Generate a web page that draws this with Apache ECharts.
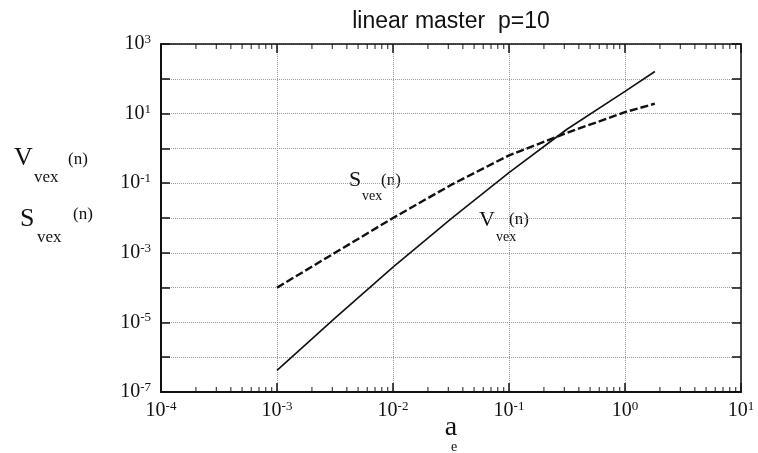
<!DOCTYPE html>
<html>
<head>
<meta charset="utf-8">
<script src="https://cdn.jsdelivr.net/npm/echarts@6/dist/echarts.min.js"></script>
<style>
  html, body { margin: 0; padding: 0; background: #fff; }
  #chart { width: 758px; height: 453px; }
</style>
</head>
<body>
<div id="chart"></div>
<script>
  // a_e values
  var ae = [0.001, 0.00316, 0.01, 0.0316, 0.1, 0.316, 1, 1.81]
  // V_vex(n), solid line
  var vexV = [4.2e-7, 1.32e-5, 3.9e-4, 9.5e-3, 0.2, 3.55, 43.7, 162]
  // S_vex(n), dashed line
  var vexS = [1e-4, 1e-3, 1e-2, 0.089, 0.63, 2.8, 11, 19.3]

  // log minor ticks of the a_e axis
  var decades = [1e-4, 1e-3, 1e-2, 1e-1, 1]
  var minorSteps = [2, 3, 4, 5, 6, 7, 8, 9]

  var xMin = 1e-4, xMax = 10
  var yMin = 1e-7, yMax = 1e3

  var serif = 'Liberation Serif'

  function pow10Label(v) {
    var e = Math.round(Math.log10(v))
    return '{b|10}{s|' + e + '}'
  }
  var labelRich = {
    b: { fontFamily: serif, fontSize: 20, color: '#111', lineHeight: 22 },
    s: { fontFamily: serif, fontSize: 13, color: '#111', padding: [0, 0, 9, 0] }
  }

  var minorBottom = [], minorTop = []
  decades.forEach(function (d) {
    minorSteps.forEach(function (k) {
      minorBottom.push([d * k, yMin])
      minorTop.push([d * k, yMax])
    })
  })

  var dom = echarts.init(document.getElementById('chart'))
  var option = {
    animation: false,
    grid: { left: 161, right: 17, top: 44, bottom: 61 },
    xAxis: [{
      type: 'log', logBase: 10, min: xMin, max: xMax, interval: 1, position: 'bottom',
      axisLine: { lineStyle: { color: '#111', width: 2 } },
      axisTick: { inside: true, length: 9, lineStyle: { color: '#111', width: 1.5 } },
      axisLabel: { margin: 8, formatter: pow10Label, rich: labelRich },
      splitLine: { show: true, lineStyle: { color: '#9a9a9a', type: 'dotted', width: 1 } }
    }, {
      type: 'log', logBase: 10, min: xMin, max: xMax, interval: 1, position: 'top',
      axisLine: { lineStyle: { color: '#111', width: 1.5 } },
      axisTick: { inside: true, length: 9, lineStyle: { color: '#111', width: 1.5 } },
      axisLabel: { show: false },
      splitLine: { show: false }
    }],
    yAxis: [{
      type: 'log', logBase: 10, min: yMin, max: yMax, interval: 1, position: 'left',
      axisLine: { lineStyle: { color: '#111', width: 2 } },
      axisTick: { inside: true, length: 9, lineStyle: { color: '#111', width: 1.5 } },
      axisLabel: {
        margin: 10, rich: labelRich,
        formatter: function (v) {
          var e = Math.round(Math.log10(v))
          return Math.abs(e) % 2 === 1 ? pow10Label(v) : ''
        }
      },
      splitLine: { show: true, lineStyle: { color: '#9a9a9a', type: 'dotted', width: 1 } }
    }, {
      type: 'log', logBase: 10, min: yMin, max: yMax, interval: 1, position: 'right',
      axisLine: { lineStyle: { color: '#111', width: 1.5 } },
      axisTick: { inside: true, length: 9, lineStyle: { color: '#111', width: 1.5 } },
      axisLabel: { show: false },
      splitLine: { show: false }
    }],
    series: [{
      name: 'V', type: 'line', smooth: false, showSymbol: false,
      data: ae.map(function (a, i) { return [a, vexV[i]] }),
      lineStyle: { color: '#111', width: 1.6 }
    }, {
      name: 'S', type: 'line', smooth: false, showSymbol: false,
      data: ae.map(function (a, i) { return [a, vexS[i]] }),
      lineStyle: { color: '#111', width: 2.4, type: [8, 3] }
    }, {
      type: 'scatter', silent: true, symbol: 'rect', symbolSize: [1.2, 5],
      symbolOffset: [0, -2.5], itemStyle: { color: '#111' },
      data: minorBottom
    }, {
      type: 'scatter', silent: true, symbol: 'rect', symbolSize: [1.2, 5],
      symbolOffset: [0, 2.5], itemStyle: { color: '#111' },
      data: minorTop
    }],
    graphic: [
      { type: 'text', x: 451, y: 22, style: { text: 'linear master  p=10', font: '23px "Liberation Sans"', fill: '#111', align: 'center', verticalAlign: 'middle' } },
      // y-axis names
      { type: 'text', x: 14, y: 158, style: { text: 'V', font: '26px "Liberation Serif"', fill: '#111', verticalAlign: 'middle' } },
      { type: 'text', x: 34, y: 178, style: { text: 'vex', font: '17px "Liberation Serif"', fill: '#111', verticalAlign: 'middle' } },
      { type: 'text', x: 68, y: 160, style: { text: '(n)', font: '17px "Liberation Serif"', fill: '#111', verticalAlign: 'middle' } },
      { type: 'text', x: 20, y: 219, style: { text: 'S', font: '26px "Liberation Serif"', fill: '#111', verticalAlign: 'middle' } },
      { type: 'text', x: 37, y: 238, style: { text: 'vex', font: '17px "Liberation Serif"', fill: '#111', verticalAlign: 'middle' } },
      { type: 'text', x: 73, y: 215, style: { text: '(n)', font: '17px "Liberation Serif"', fill: '#111', verticalAlign: 'middle' } },
      // x-axis name
      { type: 'text', x: 451, y: 428, style: { text: 'a', font: '28px "Liberation Serif"', fill: '#111', align: 'center', verticalAlign: 'middle' } },
      { type: 'text', x: 454, y: 447, style: { text: 'e', font: '14px "Liberation Serif"', fill: '#111', align: 'center', verticalAlign: 'middle' } },
      // curve labels
      { type: 'text', x: 349, y: 180, style: { text: 'S', font: '22px "Liberation Serif"', fill: '#111', verticalAlign: 'middle' } },
      { type: 'text', x: 362, y: 196, style: { text: 'vex', font: '14px "Liberation Serif"', fill: '#111', verticalAlign: 'middle' } },
      { type: 'text', x: 381, y: 181, style: { text: '(n)', font: '17px "Liberation Serif"', fill: '#111', verticalAlign: 'middle' } },
      { type: 'text', x: 479, y: 220, style: { text: 'V', font: '22px "Liberation Serif"', fill: '#111', verticalAlign: 'middle' } },
      { type: 'text', x: 496, y: 237, style: { text: 'vex', font: '14px "Liberation Serif"', fill: '#111', verticalAlign: 'middle' } },
      { type: 'text', x: 509, y: 220, style: { text: '(n)', font: '17px "Liberation Serif"', fill: '#111', verticalAlign: 'middle' } }
    ]
  }
  dom.setOption(option)
</script>
</body>
</html>
